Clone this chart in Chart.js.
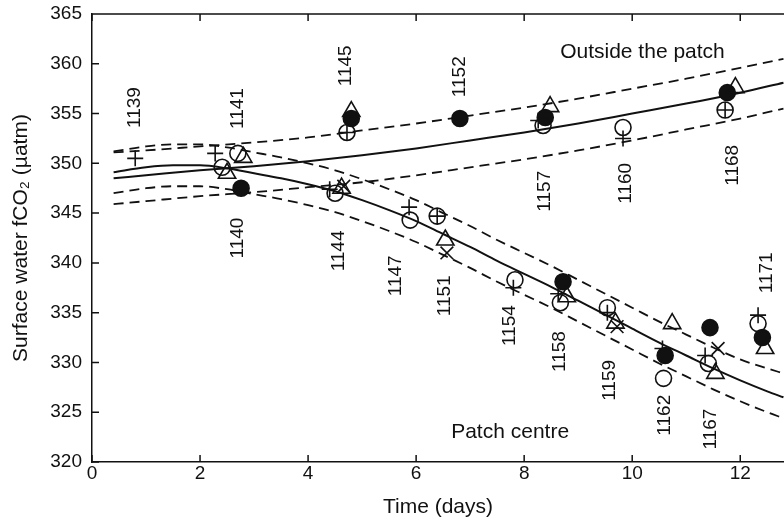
<!DOCTYPE html>
<html lang="en">
<head>
    <meta charset="UTF-8">
    <title>Surface water fCO2</title>
    <script src="https://cdn.jsdelivr.net/npm/chart.js"></script>
    <style>
        html, body { margin: 0; padding: 0; background: #fff; }
        #wrap { width: 784px; height: 524px; }
    </style>
</head>
<body>
    <div id="wrap"><canvas id="fco2Chart" width="784" height="524"></canvas></div>

    <script>
        // --- fitted curves ---
        const outX   = [0.4, 1, 2, 3, 4, 5, 6, 7, 8, 9, 10, 11, 12, 12.8];
        const outFit = [348.5, 348.8, 349.3, 349.7, 350.2, 350.8, 351.5, 352.3, 353.1, 354.0, 355.0, 356.0, 357.1, 358.1];
        const outUp  = [351.1, 351.3, 351.7, 352.1, 352.6, 353.3, 354.0, 354.8, 355.6, 356.5, 357.5, 358.5, 359.6, 360.5];
        const outLo  = [345.9, 346.2, 346.7, 347.1, 347.6, 348.1, 348.8, 349.6, 350.4, 351.3, 352.3, 353.4, 354.5, 355.5];

        const patchX   = [0.4, 1, 1.5, 2, 2.5, 3, 3.5, 4, 4.5, 5, 5.5, 6, 6.5, 7, 7.5, 8, 8.5, 9, 9.5, 10, 10.5, 11, 11.5, 12, 12.5, 12.8];
        const patchFit = [349.1, 349.6, 349.8, 349.8, 349.5, 349.0, 348.5, 347.9, 347.2, 346.3, 345.3, 344.2, 342.9, 341.6, 340.2, 338.9, 337.6, 336.2, 334.8, 333.4, 332.0, 330.7, 329.4, 328.2, 327.1, 326.5];
        const patchUp  = [351.2, 351.7, 351.9, 351.9, 351.6, 351.1, 350.6, 350.0, 349.3, 348.4, 347.4, 346.3, 345.0, 343.7, 342.3, 341.0, 339.7, 338.3, 336.9, 335.5, 334.1, 332.8, 331.5, 330.3, 329.4, 328.9];
        const patchLo  = [347.0, 347.5, 347.7, 347.7, 347.4, 346.9, 346.4, 345.8, 345.1, 344.2, 343.2, 342.1, 340.8, 339.5, 338.1, 336.8, 335.5, 334.1, 332.7, 331.3, 329.9, 328.6, 327.3, 326.1, 325.0, 324.4];

        // --- measurements, one list per marker ---
        const plusX = [0.8, 2.28, 4.4, 4.72, 5.87, 6.39, 7.8, 8.26, 8.63, 9.54, 9.83, 10.56, 11.35, 11.72, 12.33];
        const plusY = [350.5, 351.0, 347.4, 353.1, 345.6, 344.7, 337.5, 354.3, 336.9, 335.0, 352.5, 331.4, 330.7, 355.35, 334.75];

        const openX = [2.41, 2.7, 4.5, 4.72, 5.89, 6.39, 7.83, 8.35, 8.67, 9.54, 9.83, 10.58, 11.41, 11.72, 12.33];
        const openY = [349.6, 351.0, 347.0, 353.1, 344.3, 344.7, 338.3, 353.8, 336.0, 335.5, 353.6, 328.4, 329.9, 355.35, 333.9];

        const filledX = [2.76, 4.8, 6.81, 8.39, 8.72, 10.61, 11.44, 11.76, 12.41];
        const filledY = [347.5, 354.5, 354.5, 354.6, 338.1, 330.7, 333.5, 357.1, 332.5];

        const triX = [2.5, 2.8, 4.62, 4.8, 6.54, 8.48, 8.79, 9.69, 10.74, 11.54, 11.91, 12.46];
        const triY = [349.0, 350.6, 347.5, 355.2, 342.3, 355.7, 336.6, 333.95, 333.9, 328.9, 357.6, 331.4];

        const crossX = [4.66, 6.57, 9.72, 11.59];
        const crossY = [347.7, 341.0, 333.6, 331.4];

        // --- station numbers (rotated text) ---
        const stations = ['1139', '1141', '1140', '1145', '1144', '1147', '1152', '1151', '1154', '1157', '1158', '1160', '1159', '1168', '1162', '1167', '1171'];
        const stationX = [0.8, 2.69, 2.69, 4.7, 4.56, 5.63, 6.8, 6.53, 7.73, 8.38, 8.66, 9.88, 9.58, 11.86, 10.6, 11.45, 12.5];
        const stationY = [355.6, 355.5, 342.5, 359.8, 341.2, 338.7, 358.7, 336.7, 333.7, 347.2, 331.1, 348.0, 328.2, 349.8, 324.7, 323.3, 339.0];

        const regionText = ['Outside the patch', 'Patch centre'];
        const regionX = [10.19, 7.74];
        const regionY = [361.2, 323.0];

        const xTicks = [0, 2, 4, 6, 8, 10, 12];
        const yTicks = [320, 325, 330, 335, 340, 345, 350, 355, 360, 365];

        const FONT = "'Liberation Sans', Arial, Helvetica, sans-serif";

        function pts(xs, ys) {
            return xs.map((x, i) => ({ x: x, y: ys[i] }));
        }

        function curve(xs, ys, dashed) {
            return {
                type: 'line',
                data: pts(xs, ys),
                borderColor: '#111',
                borderWidth: dashed ? 1.8 : 2,
                borderDash: dashed ? [10, 6] : [],
                pointRadius: 0,
                fill: false,
                cubicInterpolationMode: 'monotone',
                order: 2
            };
        }

        function markers(xs, ys, style, r, filled) {
            return {
                type: 'scatter',
                data: pts(xs, ys),
                pointStyle: style,
                pointRadius: r,
                pointBorderWidth: 1.6,
                borderColor: '#111',
                backgroundColor: filled ? '#111' : 'rgba(0,0,0,0)',
                order: 1
            };
        }

        // drop the automatic label padding so the plot box sits where it should
        function noPad(s) {
            s.paddingLeft = 0;
            s.paddingRight = 0;
            s.paddingTop = 0;
            s.paddingBottom = 0;
        }

        // axes frame, inward ticks and text labels
        const decorations = {
            id: 'decorations',
            afterDraw(chart) {
                const ctx = chart.ctx;
                const xs = chart.scales.x, ys = chart.scales.y;
                const a = chart.chartArea;
                ctx.save();
                ctx.strokeStyle = '#111';
                ctx.lineWidth = 1.5;
                ctx.beginPath();
                ctx.moveTo(a.left, a.top);
                ctx.lineTo(a.right, a.top);
                xTicks.forEach(v => {
                    const px = xs.getPixelForValue(v);
                    ctx.moveTo(px, a.top); ctx.lineTo(px, a.top + 7);
                    ctx.moveTo(px, a.bottom); ctx.lineTo(px, a.bottom - 7);
                });
                yTicks.forEach(v => {
                    const py = ys.getPixelForValue(v);
                    ctx.moveTo(a.left, py); ctx.lineTo(a.left + 7, py);
                });
                ctx.stroke();

                ctx.fillStyle = '#111';
                ctx.textAlign = 'center';
                ctx.textBaseline = 'middle';
                ctx.font = '19px ' + FONT;
                stations.forEach((s, i) => {
                    ctx.save();
                    ctx.translate(xs.getPixelForValue(stationX[i]), ys.getPixelForValue(stationY[i]));
                    ctx.rotate(-Math.PI / 2);
                    ctx.fillText(s, 0, 0);
                    ctx.restore();
                });
                ctx.font = '21px ' + FONT;
                regionText.forEach((s, i) => {
                    ctx.fillText(s, xs.getPixelForValue(regionX[i]), ys.getPixelForValue(regionY[i]));
                });
                ctx.restore();
            }
        };

        new Chart(document.getElementById('fco2Chart').getContext('2d'), {
            data: {
                datasets: [
                    curve(outX, outFit, false),
                    curve(outX, outUp, true),
                    curve(outX, outLo, true),
                    curve(patchX, patchFit, false),
                    curve(patchX, patchUp, true),
                    curve(patchX, patchLo, true),
                    markers(openX, openY, 'circle', 8, false),
                    markers(triX, triY, 'triangle', 10, false),
                    markers(filledX, filledY, 'circle', 8, true),
                    markers(plusX, plusY, 'cross', 8, false),
                    markers(crossX, crossY, 'crossRot', 9, false)
                ]
            },
            options: {
                responsive: false,
                animation: false,
                events: [],
                layout: { autoPadding: false, padding: { top: 14, right: 0, left: 0, bottom: 0 } },
                plugins: { legend: { display: false }, tooltip: { enabled: false } },
                scales: {
                    x: {
                        type: 'linear',
                        min: 0,
                        max: 12.81,
                        afterFit: s => { s.height = 62; noPad(s); },
                        grid: { display: false, drawTicks: false, tickLength: 0 },
                        border: { display: true, color: '#111', width: 1.5 },
                        ticks: {
                            stepSize: 2,
                            includeBounds: false,
                            padding: 0,
                            color: '#111',
                            font: { family: FONT, size: 19 }
                        },
                        title: {
                            display: true,
                            text: 'Time (days)',
                            color: '#111',
                            font: { family: FONT, size: 21 },
                            padding: { top: 0, bottom: 4 }
                        }
                    },
                    y: {
                        type: 'linear',
                        min: 320,
                        max: 365,
                        afterFit: s => { s.width = 92; noPad(s); },
                        grid: { display: false, drawTicks: false, tickLength: 0 },
                        border: { display: true, color: '#111', width: 1.5 },
                        ticks: {
                            stepSize: 5,
                            padding: 10,
                            color: '#111',
                            font: { family: FONT, size: 19 }
                        },
                        title: {
                            display: true,
                            text: 'Surface water fCO₂ (µatm)',
                            color: '#111',
                            font: { family: FONT, size: 21 },
                            padding: { top: 9, bottom: 0 }
                        }
                    }
                }
            },
            plugins: [decorations]
        });
    </script>
</body>
</html>
